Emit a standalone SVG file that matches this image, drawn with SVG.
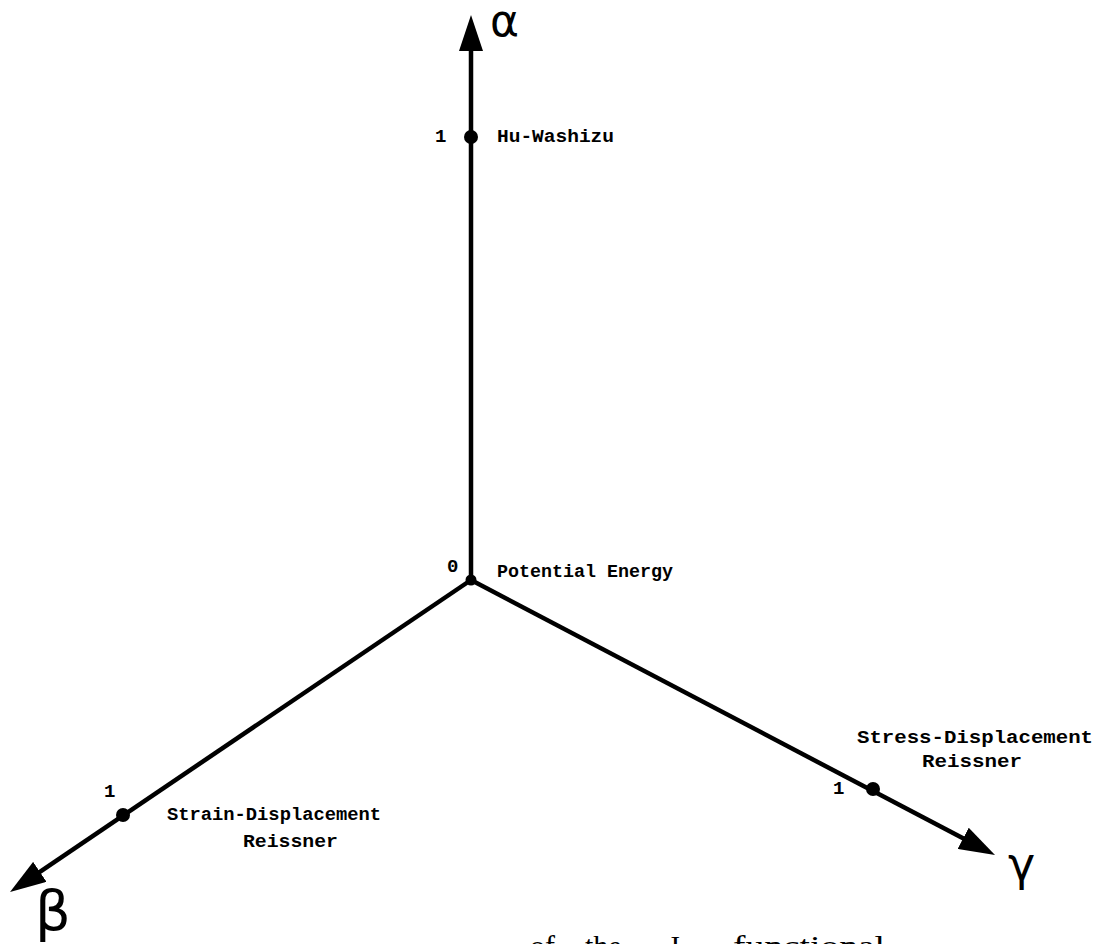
<svg xmlns="http://www.w3.org/2000/svg" width="1110" height="944" viewBox="0 0 1110 944">
<style>
.axis{stroke:#000;stroke-width:4.5;fill:none;marker-end:url(#arrow)}
.lbl{font-family:"Liberation Mono","DejaVu Sans Mono",monospace;font-weight:bold;font-size:19px;fill:#000}
.greek{font-family:"DejaVu Sans",sans-serif;fill:#000}
.cap{font-family:"Liberation Serif",serif;font-size:30px;fill:#000}
.dot{fill:#000}
</style>
<defs>
<marker id="arrow" markerUnits="userSpaceOnUse" markerWidth="36" markerHeight="24" refX="16" refY="12" orient="auto">
<path d="M0,0 L36,12 L0,24 z" fill="#000"/>
</marker>
</defs>
<rect width="1110" height="944" fill="#fff"/>
<g id="connectors">
<path class="axis" d="M471,580 L471,35"/>
<path class="axis" d="M471,580 L26.6,880.8"/>
<path class="axis" d="M471,580 L977.3,845.8"/>
</g>
<g id="origin">
<circle class="dot" cx="471" cy="580" r="5.5"/>
<text class="lbl" x="447" y="572">0</text>
<text class="lbl" x="497" y="577" textLength="176" lengthAdjust="spacingAndGlyphs">Potential Energy</text>
</g>
<g id="hu-washizu">
<circle class="dot" cx="471" cy="137" r="7"/>
<text class="lbl" x="435" y="142">1</text>
<text class="lbl" x="497" y="142" textLength="117" lengthAdjust="spacingAndGlyphs">Hu-Washizu</text>
</g>
<g id="strain-displacement">
<circle class="dot" cx="123" cy="815" r="7"/>
<text class="lbl" x="104" y="797">1</text>
<text class="lbl" x="167" y="820" textLength="214" lengthAdjust="spacingAndGlyphs">Strain-Displacement</text>
<text class="lbl" x="243" y="847" textLength="95" lengthAdjust="spacingAndGlyphs">Reissner</text>
</g>
<g id="stress-displacement">
<circle class="dot" cx="873" cy="789" r="7"/>
<text class="lbl" x="833" y="794">1</text>
<text class="lbl" x="857" y="743" textLength="236" lengthAdjust="spacingAndGlyphs">Stress-Displacement</text>
<text class="lbl" x="922" y="767" textLength="100" lengthAdjust="spacingAndGlyphs">Reissner</text>
</g>
<g id="axis-labels">
<text class="greek" x="490" y="36" font-size="44">α</text>
<text class="greek" x="35" y="930" font-size="56">β</text>
<text class="greek" x="1008" y="880" font-size="46">γ</text>
</g>
<g id="caption">
<text class="cap" y="956"><tspan x="530">of</tspan><tspan x="585">the</tspan><tspan x="668">J</tspan><tspan x="733" textLength="152" lengthAdjust="spacingAndGlyphs">functional</tspan></text>
</g>
</svg>
